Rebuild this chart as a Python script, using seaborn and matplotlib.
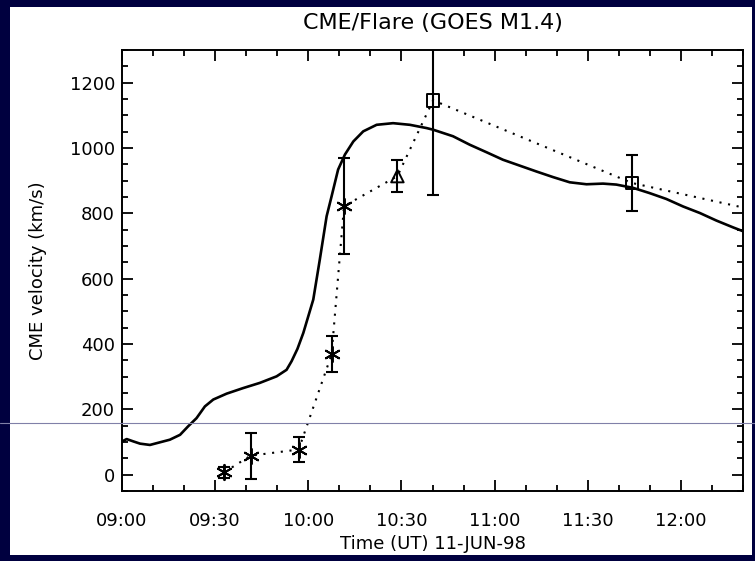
import numpy as np
import pandas as pd
import matplotlib
matplotlib.use("Agg")
import matplotlib.pyplot as plt
import seaborn as sns
from matplotlib.lines import Line2D
from matplotlib.patches import Rectangle

# ---- data (minutes after 09:00 UT) ----
curve_min = [0.1, 1.5, 3.6, 5.8, 9.0, 12.2, 15.4, 18.7, 21.3, 24.0, 26.7, 29.4, 33.7, 39.0,
             44.4, 49.8, 53.0, 54.6, 56.5, 58.4, 61.6, 63.7, 65.9, 67.5, 69.6, 71.8, 74.5,
             77.7, 82.0, 87.3, 92.7, 98.1, 100.2, 106.6, 112.0, 117.4, 122.7, 128.1, 133.5,
             138.8, 144.2, 149.6, 154.9, 159.2, 164.6, 169.9, 175.3, 180.7, 186.1, 191.4,
             196.8, 199.8]
curve_vel = [102, 109, 102, 95, 91, 99, 107, 122, 148, 173, 209, 230, 248, 265,
             281, 301, 321, 347, 385, 434, 536, 658, 791, 852, 934, 980, 1020,
             1051, 1071, 1076, 1071, 1061, 1056, 1036, 1010, 987, 964, 946, 928,
             911, 895, 889, 891, 888, 878, 862, 844, 821, 801, 778,
             757, 746]

pt_min = [33.0, 41.4, 56.9, 67.5, 71.5, 88.7, 100.2, 164.2, 240.0]
pt_vel = [8, 58, 77, 368, 822, 914, 1146, 893, 734]
pt_err = [17, 71, 38, 55, 147, 50, 289, 86, 0]
pt_kind = ["ast", "ast", "ast", "ast", "ast", "tri", "sq", "sq", "none"]

xtick_pos = [0, 30, 60, 90, 120, 150, 180]
xtick_lab = ["09:00", "09:30", "10:00", "10:30", "11:00", "11:30", "12:00"]
ytick_pos = [0, 200, 400, 600, 800, 1000, 1200]

curve = pd.DataFrame({"t": curve_min, "v": curve_vel})
pts = pd.DataFrame({"t": pt_min, "v": pt_vel, "e": pt_err, "k": pt_kind})

sns.set_style("ticks")
plt.rcParams["font.family"] = ["DejaVu Sans"]
plt.rcParams["text.color"] = "black"
plt.rcParams["axes.labelcolor"] = "black"

W, H = 755, 561
fig = plt.figure(figsize=(W / 100, H / 100), dpi=100)
fig.patch.set_facecolor("#00003f")
fig.add_artist(Rectangle((10 / W, 1 - 555 / H), (752 - 10) / W, (555 - 7) / H,
                         transform=fig.transFigure, facecolor="white",
                         edgecolor="none", zorder=0))

ax = fig.add_axes([122 / W, 1 - 491 / H, (743 - 122) / W, (491 - 50) / H])
ax.set_facecolor("white")
ax.set_zorder(1)

sns.lineplot(data=curve, x="t", y="v", ax=ax, color="black", linewidth=1.9,
             estimator=None, sort=False)
sns.lineplot(data=pts, x="t", y="v", ax=ax, color="black", linewidth=1.5,
             linestyle=(0, (1, 3.2)), estimator=None, sort=False)

for kind, mk, ms in [("ast", (6, 2, 0), 11), ("tri", "^", 9), ("sq", "s", 9)]:
    sub = pts[pts["k"] == kind]
    ax.errorbar(sub["t"], sub["v"], yerr=sub["e"], fmt="none", ecolor="black",
                elinewidth=1.5, capsize=4, capthick=1.5, zorder=3)
    sns.scatterplot(data=sub, x="t", y="v", ax=ax, marker=mk, s=ms ** 2,
                    facecolor="none" if kind != "ast" else "black",
                    edgecolor="black", linewidth=1.4, zorder=4)

ax.set_xlim(0, 200)
ax.set_ylim(-50, 1300)
ax.set_xticks(xtick_pos)
ax.set_xticklabels(xtick_lab)
ax.set_xticks(np.arange(0, 201, 10), minor=True)
ax.set_yticks(ytick_pos)
ax.set_yticks(np.arange(-50, 1301, 50), minor=True)
ax.tick_params(which="both", direction="in", top=True, right=True, colors="black",
               width=1.3)
ax.tick_params(which="major", length=8, labelsize=13)
ax.tick_params(axis="x", which="major", pad=15)
ax.tick_params(axis="y", which="major", pad=5)
ax.tick_params(which="minor", length=4)
for s in ax.spines.values():
    s.set_linewidth(1.4)
    s.set_color("black")

ax.set_xlabel("Time (UT) 11-JUN-98", fontsize=13, labelpad=4, color="black")
ax.set_ylabel("CME velocity (km/s)", fontsize=13, labelpad=16, color="black")
ax.set_title("CME/Flare (GOES M1.4)", fontsize=16, pad=15, color="black")

fig.add_artist(Line2D([0, 1], [1 - 423 / H, 1 - 423 / H], transform=fig.transFigure,
                      color="#8080a8", linewidth=0.8, zorder=10))

fig.savefig("out.png", dpi=100, facecolor=fig.get_facecolor())
